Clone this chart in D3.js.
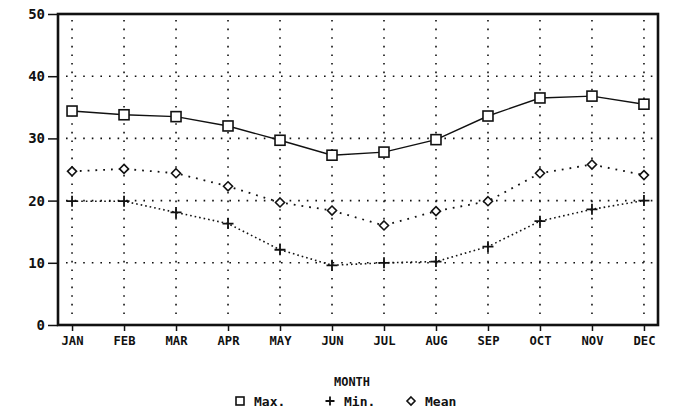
<!DOCTYPE html>
<html><head><meta charset="utf-8">
<script src="https://cdn.jsdelivr.net/npm/d3@7"></script>
<style>body{margin:0;background:#fff}svg{display:block}text{font-family:"DejaVu Sans Mono",monospace;font-weight:bold;fill:#111}</style>
</head><body><svg id="c" width="673" height="413"></svg>
<script>
const months = ["JAN","FEB","MAR","APR","MAY","JUN","JUL","AUG","SEP","OCT","NOV","DEC"];
const maxT  = [34.4,33.8,33.5,32.0,29.7,27.3,27.8,29.8,33.6,36.5,36.8,35.5];
const minT  = [19.9,19.9,18.1,16.3,12.1,9.6,10.0,10.2,12.6,16.7,18.6,20.0];
const meanT = [24.7,25.1,24.4,22.3,19.7,18.4,16.0,18.3,19.9,24.4,25.8,24.1];
const yTicks = [0,10,20,30,40,50];
const xTitle = "MONTH";
const legendItems = [["sq","Max."],["plus","Min."],["dia","Mean"]];

const svg = d3.select("#c");
const L=58,T=14,R=658,B=325;
const x = d3.scalePoint().domain(months).range([L,R]).padding(0.27);
const y = d3.scaleLinear().domain([0,50]).range([B,T]);

// grid
const g = svg.append("g").attr("stroke","#111").attr("stroke-width",1.6).attr("stroke-dasharray","1.6,7");
months.forEach(m=>g.append("line").attr("x1",x(m)).attr("x2",x(m)).attr("y1",T+6).attr("y2",B-6));
yTicks.filter(v=>v>0&&v<50).forEach(v=>g.append("line").attr("x1",L+8).attr("x2",R-4).attr("y1",y(v)).attr("y2",y(v)));

// axes
const ya = svg.append("g").attr("transform",`translate(${L},0)`).call(d3.axisLeft(y).tickValues(yTicks).tickSize(10).tickPadding(3));
ya.select(".domain").remove();
ya.selectAll("line").attr("stroke","#111").attr("stroke-width",1.5);
ya.selectAll("text").attr("font-size",14).style("font-family","'DejaVu Sans Mono',monospace").style("font-weight","bold");
const xa = svg.append("g").attr("transform",`translate(0,${B})`).call(d3.axisBottom(x).tickSize(6).tickPadding(5));
xa.select(".domain").remove();
xa.selectAll("line").attr("stroke","#111").attr("stroke-width",1.5);
xa.selectAll("text").attr("font-size",13).style("font-family","'DejaVu Sans Mono',monospace").style("font-weight","bold").attr("textLength",22).attr("lengthAdjust","spacingAndGlyphs");

// frame
svg.append("rect").attr("x",L).attr("y",T).attr("width",R-L).attr("height",B-T).attr("fill","none").attr("stroke","#111").attr("stroke-width",2.6);

const line = d3.line().x((d,i)=>x(months[i])).y(d=>y(d));
svg.append("path").datum(maxT).attr("d",line).attr("fill","none").attr("stroke","#111").attr("stroke-width",1.4);
svg.append("path").datum(minT).attr("d",line).attr("fill","none").attr("stroke","#111").attr("stroke-width",1.6).attr("stroke-dasharray","1.6,3");
svg.append("path").datum(meanT).attr("d",line).attr("fill","none").attr("stroke","#111").attr("stroke-width",1.8).attr("stroke-dasharray","1.8,6");

function marker(sel,type,cx,cy,s){
  if(type==="sq") sel.append("rect").attr("x",cx-s/2).attr("y",cy-s/2).attr("width",s).attr("height",s).attr("fill","#fff").attr("stroke","#111").attr("stroke-width",1.6);
  else if(type==="plus") sel.append("path").attr("d",`M${cx-s/2},${cy}H${cx+s/2}M${cx},${cy-s/2}V${cy+s/2}`).attr("stroke","#111").attr("stroke-width",1.8);
  else sel.append("path").attr("d",`M${cx},${cy-s/2}L${cx+s/2},${cy}L${cx},${cy+s/2}L${cx-s/2},${cy}Z`).attr("fill","#fff").attr("stroke","#111").attr("stroke-width",1.6);
}
const mk = svg.append("g");
maxT.forEach((v,i)=>marker(mk,"sq",x(months[i]),y(v),10));
minT.forEach((v,i)=>marker(mk,"plus",x(months[i]),y(v),11));
meanT.forEach((v,i)=>marker(mk,"dia",x(months[i]),y(v),9));

svg.append("text").attr("x",352).attr("y",386).attr("text-anchor","middle").attr("font-size",13).attr("textLength",36).attr("lengthAdjust","spacingAndGlyphs").text(xTitle);

const legX=[240,330,411];
legendItems.forEach((d,i)=>{
  marker(svg,d[0],legX[i],401,d[0]==="plus"?9:8);
  svg.append("text").attr("x",legX[i]+14).attr("y",406).attr("font-size",13).text(d[1]);
});
</script></body></html>
